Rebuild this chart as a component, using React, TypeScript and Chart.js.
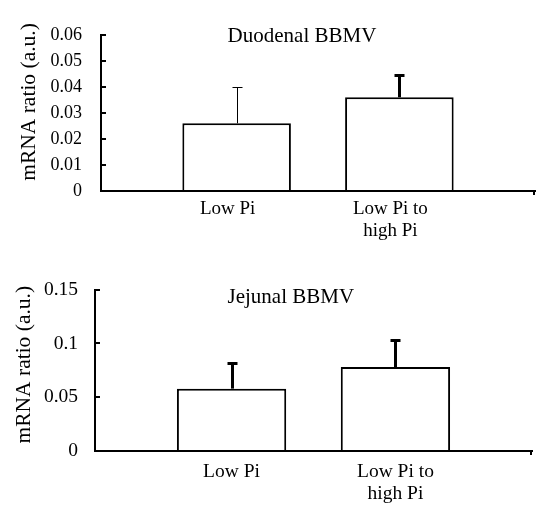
import React, { useEffect, useRef } from 'react';
import { Chart, registerables } from 'chart.js';

Chart.register(...registerables);

// ---------- data ----------
const categoryLines: string[][] = [['Low Pi'], ['Low Pi to', 'high Pi']];
const xPositions = [1, 2];
const xMin = 1 / 6;
const xMax = 17 / 6;

const yAxisTitle = 'mRNA ratio (a.u.)';

const duodenalTitle = 'Duodenal BBMV';
const duodenalMeans = [0.026, 0.036];
const duodenalErrors = [0.014, 0.009];
const duodenalYTicks = [0, 0.01, 0.02, 0.03, 0.04, 0.05, 0.06];

const jejunalTitle = 'Jejunal BBMV';
const jejunalMeans = [0.058, 0.078];
const jejunalErrors = [0.025, 0.026];
const jejunalYTicks = [0, 0.05, 0.1, 0.15];

// ---------- styles ----------
const FONT = "'Liberation Serif', 'Times New Roman', Times, serif";

type PanelStyle = {
  height: number;
  padTop: number;
  padRight: number;
  yAxisWidth: number;
  xAxisHeight: number;
  yTickFont: number;
  yTickPadding: number;
  xTickFont: number;
  xTickPadding: number;
  xLabelOffset: number;
  titleFont: number;
  titleXFrac: number;
  titleBaseline: number;
  yTitleFont: number;
  yTitleYFrac: number;
  yTitleOffset: number;
  errWidths: number[];
};

const topStyle: PanelStyle = {
  height: 256,
  padTop: 32,
  padRight: 13,
  yAxisWidth: 101,
  xAxisHeight: 65,
  yTickFont: 18,
  yTickPadding: 24,
  xTickFont: 19,
  xTickPadding: 7.5,
  xLabelOffset: -9,
  titleFont: 21,
  titleXFrac: 0.463,
  titleBaseline: 7.5,
  yTitleFont: 21.5,
  yTitleYFrac: 0.43,
  yTitleOffset: 66,
  errWidths: [1, 3],
};

const bottomStyle: PanelStyle = {
  height: 256,
  padTop: 25,
  padRight: 16,
  yAxisWidth: 95,
  xAxisHeight: 61,
  yTickFont: 19.5,
  yTickPadding: 22,
  xTickFont: 19.5,
  xTickPadding: 10,
  xLabelOffset: 0,
  titleFont: 21,
  titleXFrac: 0.448,
  titleBaseline: 13,
  yTitleFont: 21.5,
  yTitleYFrac: 0.465,
  yTitleOffset: 65.5,
  errWidths: [3, 3],
};

type PanelSpec = {
  title: string;
  means: number[];
  errors: number[];
  yTicks: number[];
  style: PanelStyle;
};

const panels: PanelSpec[] = [
  { title: duodenalTitle, means: duodenalMeans, errors: duodenalErrors, yTicks: duodenalYTicks, style: topStyle },
  { title: jejunalTitle, means: jejunalMeans, errors: jejunalErrors, yTicks: jejunalYTicks, style: bottomStyle },
];

function makeDecorPlugin(spec: PanelSpec) {
  const st = spec.style;
  return {
    id: 'panelDecor',
    afterDatasetsDraw(chart: any) {
      const ctx = chart.ctx as CanvasRenderingContext2D;
      const meta = chart.getDatasetMeta(0);
      const yScale = chart.scales.y;
      ctx.save();
      ctx.strokeStyle = '#000';
      ctx.lineCap = 'butt';
      spec.means.forEach((m, i) => {
        const el = meta.data[i];
        if (!el) return;
        const lw = st.errWidths[i];
        const x = Math.round(el.x) + (lw % 2 ? 0.5 : 0);
        const yBar = yScale.getPixelForValue(m);
        const yTop = Math.round(yScale.getPixelForValue(m + spec.errors[i]));
        ctx.lineWidth = lw;
        ctx.beginPath();
        ctx.moveTo(x, yBar);
        ctx.lineTo(x, yTop);
        ctx.stroke();
        ctx.beginPath();
        ctx.moveTo(x - 5, yTop + lw / 2);
        ctx.lineTo(x + 5, yTop + lw / 2);
        ctx.stroke();
      });
      ctx.restore();
    },
    afterDraw(chart: any) {
      const ctx = chart.ctx as CanvasRenderingContext2D;
      const a = chart.chartArea;
      ctx.save();
      ctx.fillStyle = '#000';
      // panel title
      ctx.font = `${st.titleFont}px ${FONT}`;
      ctx.textAlign = 'center';
      ctx.textBaseline = 'alphabetic';
      ctx.fillText(spec.title, a.left + (a.right - a.left) * st.titleXFrac, a.top + st.titleBaseline);
      // y axis title
      ctx.save();
      ctx.translate(a.left - st.yTitleOffset, a.top + (a.bottom - a.top) * st.yTitleYFrac);
      ctx.rotate(-Math.PI / 2);
      ctx.font = `${st.yTitleFont}px ${FONT}`;
      ctx.textAlign = 'center';
      ctx.textBaseline = 'alphabetic';
      ctx.fillText(yAxisTitle, 0, 0);
      ctx.restore();
      // end tick on the x axis
      ctx.strokeStyle = '#000';
      ctx.lineWidth = 2;
      ctx.beginPath();
      ctx.moveTo(a.right - 1, a.bottom - 1);
      ctx.lineTo(a.right - 1, a.bottom + 4);
      ctx.stroke();
      ctx.restore();
    },
  };
}

function Panel({ spec }: { spec: PanelSpec }) {
  const ref = useRef<HTMLCanvasElement | null>(null);
  useEffect(() => {
    if (!ref.current) return;
    const st = spec.style;
    const chart = new Chart(ref.current, {
      type: 'bar',
      data: {
        datasets: [
          {
            data: xPositions.map((x, i) => ({ x, y: spec.means[i] })),
            backgroundColor: '#ffffff',
            borderColor: '#000000',
            borderWidth: 2,
            borderSkipped: 'start',
            barPercentage: 0.667,
            categoryPercentage: 1,
          } as any,
        ],
      },
      options: {
        animation: false,
        responsive: true,
        maintainAspectRatio: false,
        events: [],
        layout: { padding: { top: st.padTop, right: st.padRight, left: 0, bottom: 0 } },
        plugins: {
          legend: { display: false },
          tooltip: { enabled: false },
          title: { display: false },
        },
        scales: {
          x: {
            type: 'linear',
            position: 'bottom',
            offset: false,
            min: xMin,
            max: xMax,
            afterBuildTicks: (s: any) => {
              s.ticks = xPositions.map((v) => ({ value: v }));
            },
            afterFit: (s: any) => {
              s.height = st.xAxisHeight;
            },
            grid: { display: false, drawTicks: false, drawOnChartArea: false, offset: false },
            border: { display: true, color: '#000', width: 2 },
            ticks: {
              autoSkip: false,
              maxRotation: 0,
              minRotation: 0,
              padding: st.xTickPadding,
              labelOffset: st.xLabelOffset,
              color: '#000',
              font: { family: FONT, size: st.xTickFont, lineHeight: 1.13 },
              callback: (_v: any, i: number) => categoryLines[i],
            },
          },
          y: {
            type: 'linear',
            position: 'left',
            min: spec.yTicks[0],
            max: spec.yTicks[spec.yTicks.length - 1],
            afterBuildTicks: (s: any) => {
              s.ticks = spec.yTicks.map((v) => ({ value: v }));
            },
            afterFit: (s: any) => {
              s.width = st.yAxisWidth;
            },
            grid: {
              display: true,
              drawOnChartArea: false,
              drawTicks: true,
              tickLength: -5,
              color: '#000',
              lineWidth: 2,
            },
            border: { display: true, color: '#000', width: 2 },
            ticks: {
              padding: st.yTickPadding,
              color: '#000',
              font: { family: FONT, size: st.yTickFont },
              callback: (v: any) => String(v),
            },
          },
        },
      } as any,
      plugins: [makeDecorPlugin(spec)],
    });
    return () => chart.destroy();
  }, [spec]);
  return (
    <div style={{ position: 'relative', width: 548, height: spec.style.height }}>
      <canvas ref={ref} />
    </div>
  );
}

export default function App() {
  return (
    <div
      style={{
        position: 'fixed',
        left: 0,
        top: 0,
        width: 548,
        height: 512,
        background: '#fff',
        overflow: 'hidden',
      }}
    >
      {panels.map((p, i) => (
        <Panel key={i} spec={p} />
      ))}
    </div>
  );
}
